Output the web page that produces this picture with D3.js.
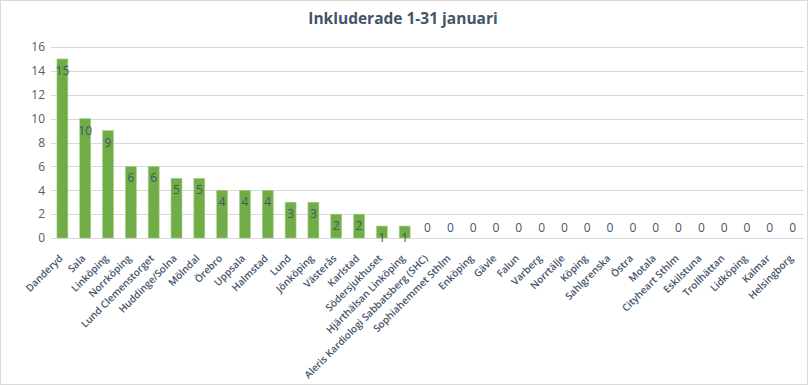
<!DOCTYPE html>
<html>
<head>
<meta charset="utf-8">
<script src="https://cdn.jsdelivr.net/npm/d3@7"></script>
<style>
  html, body { margin: 0; padding: 0; background: #fff; }
  svg { display: block; }
</style>
</head>
<body>
<svg id="chart"></svg>
<script>
const title = "Inkluderade 1-31 januari";

const categories = [
  "Danderyd", "Sala", "Linköping", "Norrköping", "Lund Clemenstorget",
  "Huddinge/Solna", "Mölndal", "Örebro", "Uppsala", "Halmstad", "Lund",
  "Jönköping", "Västerås", "Karlstad", "Södersjukhuset", "Hjärthälsan Linköping",
  "Aleris Kardiologi Sabbatsberg (SHC)", "Sophiahemmet Sthlm", "Enköping",
  "Gävle", "Falun", "Varberg", "Norrtälje", "Köping", "Sahlgrenska", "Östra",
  "Motala", "Cityheart Sthlm", "Eskilstuna", "Trollhättan", "Lidköping",
  "Kalmar", "Helsingborg"
];

const values = [
  15, 10, 9, 6, 6, 5, 5, 4, 4, 4, 3, 3, 2, 2, 1, 1,
  0, 0, 0, 0, 0, 0, 0, 0, 0, 0, 0, 0, 0, 0, 0, 0, 0
];

const yTicks = [0, 2, 4, 6, 8, 10, 12, 14, 16];

const W = 808, H = 385;
const margin = {top: 47, right: 4, bottom: 147, left: 51};
const textColor = "#44546A";

const svg = d3.select("#chart").attr("width", W).attr("height", H);

// outer frame
svg.append("rect")
  .attr("x", 0.5).attr("y", 0.5)
  .attr("width", W - 1).attr("height", H - 1)
  .attr("fill", "#fff")
  .attr("stroke", "#D9D9D9");

const x = d3.scaleBand()
  .domain(categories)
  .range([margin.left, W - margin.right])
  .paddingInner(0.52)
  .paddingOuter(0.26);

const y = d3.scaleLinear()
  .domain([0, 16])
  .range([H - margin.bottom, margin.top]);

// gridlines
svg.append("g")
  .selectAll("line")
  .data(yTicks)
  .join("line")
  .attr("x1", margin.left)
  .attr("x2", W - margin.right)
  .attr("y1", d => Math.round(y(d)) + 0.5)
  .attr("y2", d => Math.round(y(d)) + 0.5)
  .attr("stroke", "#D9D9D9")
  .attr("stroke-width", 1);

// y axis labels
const yAxis = svg.append("g")
  .attr("transform", `translate(${margin.left - 6},0)`)
  .call(d3.axisLeft(y).tickValues(yTicks).tickSize(0).tickPadding(0));
yAxis.select(".domain").remove();
yAxis.selectAll("text")
  .attr("fill", "#595959")
  .attr("font-family", "'Open Sans', 'Noto Sans', sans-serif")
  .attr("font-size", 12);

// bars
svg.append("g")
  .selectAll("rect")
  .data(values)
  .join("rect")
  .attr("x", (d, i) => x(categories[i]))
  .attr("y", d => y(d))
  .attr("width", x.bandwidth())
  .attr("height", d => y(0) - y(d))
  .attr("fill", "#70AD47")
  .attr("stroke", "#A9D18E")
  .attr("stroke-width", 0.6);

// value labels
svg.append("g")
  .selectAll("text")
  .data(values)
  .join("text")
  .attr("x", (d, i) => x(categories[i]) + x.bandwidth() / 2)
  .attr("y", d => d > 0 ? y(d) + 16 : y(0) - 6)
  .attr("text-anchor", "middle")
  .attr("fill", textColor)
  .attr("font-family", "'Open Sans', 'Noto Sans', sans-serif")
  .attr("font-size", 12)
  .text(d => d);

// x axis labels
const xAxis = svg.append("g")
  .attr("transform", `translate(0,${y(0)})`)
  .call(d3.axisBottom(x).tickSize(0).tickPadding(0));
xAxis.select(".domain").remove();
xAxis.selectAll("text")
  .attr("fill", textColor)
  .attr("font-family", "'Open Sans', 'Noto Sans', sans-serif")
  .attr("font-weight", 600)
  .attr("font-size", 10)
  .attr("text-anchor", "end")
  .attr("dy", 0)
  .attr("transform", "translate(1,21) rotate(-45)");

// title
svg.append("text")
  .attr("x", 403)
  .attr("y", 24)
  .attr("text-anchor", "middle")
  .attr("fill", textColor)
  .attr("font-family", "'Open Sans', 'Noto Sans', sans-serif")
  .attr("font-weight", 700)
  .attr("font-size", 15.5)
  .text(title);
</script>
</body>
</html>
